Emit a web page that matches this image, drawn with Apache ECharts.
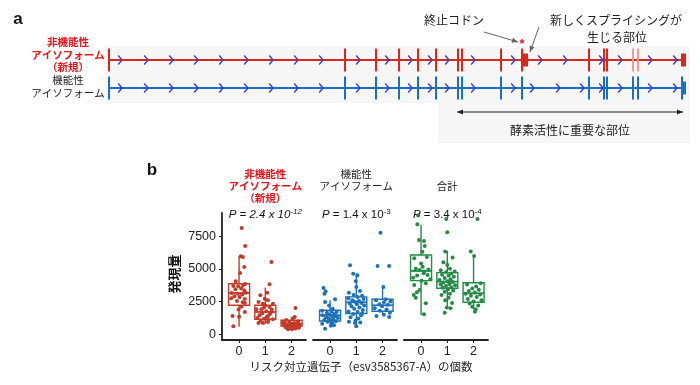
<!DOCTYPE html>
<html><head><meta charset="utf-8">
<script src="https://cdn.jsdelivr.net/npm/echarts@6/dist/echarts.min.js"></script>
<style>html,body{margin:0;padding:0;background:#fff}#c{width:700px;height:385px}</style>
</head><body><div id="c"></div>
<script>
// ---------- Panel a: gene structure (arbitrary transcript units) ----------
const isoformRows = ['非機能性アイソフォーム（新規）', '機能性アイソフォーム'];
const geneSpan = [0, 577];
const exonTicksNew = [0, 236, 267, 290, 309, 327, 349, 353, 392, 413, 480, 495, 498];
const paleTicksNew = [524, 529];
const exonTicksFunc = [0, 236, 267, 290, 309, 327, 349, 353, 392, 413, 480, 495, 498, 524, 529, 573];
const blocksNew = [[413, 419], [572, 577]];
const blocksFunc = [[573, 577]];
const chevronsNew = [11, 37, 62, 87, 112, 137, 162, 187, 212, 249, 278, 301, 321, 338, 364, 404, 431, 456, 492, 511, 541, 566];
const chevronsFunc = [11, 37, 62, 87, 112, 137, 162, 187, 212, 249, 278, 301, 321, 338, 364, 404, 423, 449, 473, 492, 511, 541, 566];
const stopCodonPos = 413;
const enzymeDomain = [348, 574];

// ---------- Panel b: expression ----------
const groupTitles = ['非機能性\nアイソフォーム\n（新規）', '機能性\nアイソフォーム', '合計'];
const pValues = [['2.4', '-12'], ['1.4', '-3'], ['3.4', '-4']];
const riskAlleleCounts = [0, 1, 2];
const yTicks = [0, 2500, 5000, 7500];
const yTitle = '発現量';
const xTitle = 'リスク対立遺伝子（esv3585367-A）の個数';

// box stats: [min, Q1, median, Q3, max] for 0,1,2 risk alleles
const newIsoBoxes = [[581, 2217, 3157, 3868, 5948], [810, 1147, 1705, 2217, 3563], [380, 634, 810, 1070, 1322]];
const funcIsoBoxes = [[688, 1017, 1460, 1835, 2600], [612, 1590, 2450, 2860, 4633], [1452, 1758, 2217, 2675, 3616]];
const totalBoxes = [[1475, 4098, 4839, 6062, 8356], [2033, 3517, 4022, 4711, 6368], [1911, 2446, 3134, 3945, 5986]];

// jittered points: [horizontal jitter, value]
const newIso0 = [[0.10,8130],[0.23,6750],[0.06,5960],[0.14,5900],[0.20,5150],[0.04,4690],[-0.13,4050],[0.23,3850],[-0.22,3700],[-0.03,3680],[0.15,3750],[-0.14,3450],[0.08,3500],[0.20,3350],[-0.28,3150],[-0.05,3100],[0.12,3050],[0.25,3180],[-0.18,2900],[0.02,2850],[-0.30,2750],[0.22,2700],[-0.08,2550],[0.14,2450],[0.22,2400],[0.08,2100],[-0.02,1900],[0.22,1700],[-0.25,1400],[0.00,1350],[-0.22,620]];
const newIso1 = [[0.23,5530],[0.16,3820],[0.07,3180],[-0.19,2980],[-0.02,2720],[0.10,2600],[-0.26,2470],[-0.09,2340],[0.29,2340],[0.16,2090],[-0.15,1910],[-0.34,1910],[0.04,1760],[0.23,1710],[-0.22,1450],[0.10,1400],[-0.05,1190],[0.29,1150],[-0.26,860],[-0.09,860],[0.10,940],[0.00,2200],[-0.12,1600],[0.18,1550],[0.05,1300],[-0.30,1250],[0.25,1900],[-0.05,2050],[0.12,1100],[-0.18,1000]];
const newIso2 = [[0.15,2010],[0.12,1330],[0.05,1200],[-0.20,1100],[-0.32,950],[0.25,980],[-0.08,900],[0.10,870],[-0.25,820],[0.02,800],[0.20,780],[-0.15,750],[0.30,720],[-0.02,700],[-0.30,680],[0.18,650],[-0.12,620],[0.07,600],[0.25,560],[-0.22,520],[-0.05,480],[0.15,450],[-0.13,380],[0.02,380],[0.28,500]];
const funcIso0 = [[-0.25,3540],[-0.17,3290],[-0.21,3100],[0.19,2680],[-0.19,2470],[-0.04,2210],[0.10,1950],[-0.30,1800],[0.05,1750],[0.25,1700],[-0.12,1650],[0.15,1550],[-0.02,1500],[-0.28,1450],[0.20,1400],[0.08,1350],[-0.15,1300],[0.30,1250],[-0.05,1200],[0.12,1150],[-0.22,1100],[0.02,1050],[0.22,1000],[-0.10,950],[0.08,850],[-0.30,800],[0.15,700],[-0.19,430],[0.03,650]];
const funcIso1 = [[-0.24,5280],[-0.12,4630],[0.04,4510],[-0.02,4050],[0.00,3620],[-0.28,3180],[0.14,3300],[-0.10,3000],[0.22,2950],[0.05,2850],[-0.30,2750],[0.28,2700],[-0.15,2600],[0.10,2550],[-0.05,2480],[0.20,2400],[-0.25,2350],[0.02,2300],[0.30,2200],[-0.18,2150],[0.12,2050],[-0.08,1950],[0.25,1850],[-0.30,1750],[0.05,1700],[-0.12,1550],[0.18,1450],[-0.22,1300],[0.08,1200],[-0.03,1050],[-0.28,950],[0.15,900],[-0.05,860],[0.00,610],[0.22,1600]];
const funcIso2 = [[-0.08,7770],[-0.19,5220],[0.25,5220],[0.03,3620],[0.12,2680],[-0.25,2600],[0.30,2500],[0.05,2450],[-0.12,2300],[0.20,2250],[-0.02,2150],[-0.30,2000],[0.15,1900],[-0.10,1800],[0.28,1650],[-0.23,1400],[0.25,1320],[0.05,1500]];
const total0 = [[-0.11,9070],[-0.14,8410],[-0.08,7210],[0.11,7130],[0.14,6750],[0.05,6300],[-0.26,5810],[0.22,5900],[0.00,5420],[0.06,5170],[-0.20,5000],[0.28,4950],[-0.05,4910],[0.12,4800],[0.10,4660],[0.25,4530],[-0.15,4500],[-0.30,4330],[0.35,4200],[0.02,4100],[-0.26,3770],[0.18,3900],[-0.06,3390],[-0.16,3210],[-0.28,3000],[0.18,2370],[0.11,1530],[-0.20,2800]];
const total1 = [[-0.04,8820],[0.00,7800],[-0.08,6320],[0.20,5860],[0.00,5300],[-0.15,5500],[0.10,5000],[-0.25,4900],[0.28,4800],[-0.05,4750],[0.15,4650],[-0.20,4550],[0.05,4500],[0.25,4400],[-0.10,4300],[0.12,4200],[-0.30,4150],[0.00,4050],[0.20,4000],[-0.15,3950],[0.08,3850],[-0.25,3800],[0.30,3750],[-0.05,3700],[0.15,3600],[-0.18,3550],[0.02,3450],[0.22,3350],[-0.10,3250],[0.10,3100],[-0.22,3000],[0.05,2800],[-0.08,2600],[0.18,2400],[-0.02,2050],[0.12,1990],[-0.10,1650]];
const total2 = [[0.15,8820],[-0.11,6320],[0.02,5990],[0.27,3900],[-0.25,3800],[0.10,3650],[-0.05,3500],[0.20,3400],[-0.18,3300],[0.05,3200],[-0.30,3100],[0.25,3050],[-0.10,2950],[0.12,2850],[-0.22,2700],[0.30,2600],[0.00,2500],[-0.15,2350],[0.18,2200],[-0.05,2100],[0.08,1920],[0.05,1730]];

// ---------- styling ----------
const FONT = '"Liberation Sans", Arial, "Noto Sans CJK JP", sans-serif';
const JP = '"Noto Sans CJK JP", "Liberation Sans", sans-serif';
const rowColors = ['#d8281d', '#1b6ec2'];
const paleRed = '#ee9b94';
const chevronColor = '#2b3af2';
const groupColors = ['#c23b2b', '#1d72b8', '#238b45'];
const titleRed = '#e8141c';

const chart = echarts.init(document.getElementById('c'));

function backboneRender(params, api) {
  const row = api.value(2);
  const a = api.coord([api.value(0), row]), b = api.coord([api.value(1), row]);
  return {type:'line', shape:{x1:a[0], y1:a[1], x2:b[0], y2:b[1]}, style:{stroke:rowColors[row], lineWidth:2}};
}
function tickRender(pale) {
  return function(params, api) {
    const row = api.value(1);
    const p = api.coord([api.value(0), row]);
    return {type:'line', shape:{x1:p[0], y1:p[1]-11.5, x2:p[0], y2:p[1]+11.5},
      style:{stroke: pale ? paleRed : rowColors[row], lineWidth:2}};
  };
}
function blockRender(params, api) {
  const row = api.value(2);
  const a = api.coord([api.value(0), row]), b = api.coord([api.value(1), row]);
  return {type:'rect', shape:{x:a[0], y:a[1]-6.5, width:b[0]-a[0], height:13}, style:{fill:rowColors[row]}};
}
function chevronRender(params, api) {
  const p = api.coord([api.value(0), api.value(1)]);
  return {type:'polyline', shape:{points:[[p[0]-1.8,p[1]-4.5],[p[0]+1.6,p[1]-0.5],[p[0]+1.6,p[1]+0.5],[p[0]-1.8,p[1]+4.5]]},
    style:{stroke:chevronColor, lineWidth:1.3, fill:null}};
}
function boxRender(color) {
  return function(params, api) {
    const x = api.value(0);
    const lo = api.coord([x, api.value(1)]), q1 = api.coord([x, api.value(2)]),
      md = api.coord([x, api.value(3)]), q3 = api.coord([x, api.value(4)]), hi = api.coord([x, api.value(5)]);
    const w = api.size([0.8, 0])[0];
    const xl = q1[0] - w / 2;
    const st = {stroke:color, lineWidth:1.4, fill:null};
    return {type:'group', children:[
      {type:'line', shape:{x1:lo[0], y1:lo[1], x2:lo[0], y2:q1[1]}, style:st},
      {type:'line', shape:{x1:hi[0], y1:hi[1], x2:hi[0], y2:q3[1]}, style:st},
      {type:'rect', shape:{x:xl, y:q3[1], width:w, height:q1[1]-q3[1]}, style:st},
      {type:'line', shape:{x1:xl, y1:md[1], x2:xl+w, y2:md[1]}, style:{stroke:color, lineWidth:1.8}}
    ]};
  };
}

const rowIdx = {new:0, func:1};
const series = [
  {type:'custom', xAxisIndex:0, yAxisIndex:0, renderItem:backboneRender, z:1,
   data:[[geneSpan[0], geneSpan[1], rowIdx.new], [geneSpan[0], geneSpan[1], rowIdx.func]]},
  {type:'custom', xAxisIndex:0, yAxisIndex:0, renderItem:tickRender(false), z:2,
   data: exonTicksNew.map(p => [p, rowIdx.new]).concat(exonTicksFunc.map(p => [p, rowIdx.func]))},
  {type:'custom', xAxisIndex:0, yAxisIndex:0, renderItem:tickRender(true), z:2,
   data: paleTicksNew.map(p => [p, rowIdx.new])},
  {type:'custom', xAxisIndex:0, yAxisIndex:0, renderItem:blockRender, z:3,
   data: blocksNew.map(b => [b[0], b[1], rowIdx.new]).concat(blocksFunc.map(b => [b[0], b[1], rowIdx.func]))},
  {type:'custom', xAxisIndex:0, yAxisIndex:0, renderItem:chevronRender, z:4,
   data: chevronsNew.map(p => [p, rowIdx.new]).concat(chevronsFunc.map(p => [p, rowIdx.func]))}
];

const boxSets = [newIsoBoxes, funcIsoBoxes, totalBoxes];
const pointSets = [[newIso0, newIso1, newIso2], [funcIso0, funcIso1, funcIso2], [total0, total1, total2]];
boxSets.forEach((boxes, g) => {
  series.push({type:'custom', xAxisIndex:g+1, yAxisIndex:g+1, renderItem:boxRender(groupColors[g]), z:2,
    data: boxes.map((b, k) => [riskAlleleCounts[k]].concat(b))});
  series.push({type:'scatter', xAxisIndex:g+1, yAxisIndex:g+1, symbolSize:4, z:3,
    itemStyle:{color:groupColors[g], opacity:1},
    data: pointSets[g].flatMap((pts, k) => pts.map(([dx, v]) => [riskAlleleCounts[k] + dx, v]))});
});

const grids = [{left:109, top:46, width:577, height:56}];
const bLefts = [222, 313, 404];
bLefts.forEach(l => grids.push({left:l, top:213, width:84, height:127}));

const plain = v => String(v);
const xAxes = [{type:'value', gridIndex:0, min:geneSpan[0], max:geneSpan[1], show:false}];
const yAxes = [{type:'category', gridIndex:0, data:isoformRows, inverse:true, show:false}];
for (let g = 0; g < 3; g++) {
  xAxes.push({type:'value', gridIndex:g+1, min:-0.65, max:2.55,
    axisLine:{onZero:false, lineStyle:{color:'#222', width:1.8}},
    axisTick:{customValues:riskAlleleCounts, length:3, lineStyle:{color:'#222', width:1}},
    axisLabel:{customValues:riskAlleleCounts, formatter:plain, margin:5, fontSize:12.5, color:'#222', fontFamily:FONT},
    splitLine:{show:false}});
  yAxes.push({type:'value', gridIndex:g+1, min:-436, max:9270,
    axisLine:{show:g===0, onZero:false, lineStyle:{color:'#222', width:1.8}},
    axisTick:{show:g===0, customValues:yTicks, length:3, lineStyle:{color:'#222', width:1}},
    axisLabel:{show:g===0, customValues:yTicks, formatter:plain, margin:6, fontSize:12.5, color:'#222', fontFamily:FONT},
    splitLine:{show:false}});
}

chart.setOption({animation:false, backgroundColor:'#fff', grid:grids, xAxis:xAxes, yAxis:yAxes, series:series});

// ---------- annotations ----------
function arrowEls(x1, y1, x2, y2, color, both) {
  const els = [{type:'line', shape:{x1, y1, x2, y2}, style:{stroke:color, lineWidth:1}}];
  const head = (tx, ty, fx, fy) => {
    const a = Math.atan2(ty - fy, tx - fx), L = 6, W = 2.6;
    const bx = tx - L * Math.cos(a), by = ty - L * Math.sin(a);
    return {type:'polygon', shape:{points:[[tx,ty],[bx + W*Math.sin(a), by - W*Math.cos(a)],[bx - W*Math.sin(a), by + W*Math.cos(a)]]}, style:{fill:color}};
  };
  els.push(head(x2, y2, x1, y1));
  if (both) els.push(head(x1, y1, x2, y2));
  return els;
}
function txt(x, y, text, size, color, weight, family, lh, extra) {
  return Object.assign({type:'text', x, y, style:{text, fontSize:size, fontFamily:family || JP, fontWeight:weight || 'normal',
    fill:color || '#222', align:'center', verticalAlign:'middle', lineHeight:lh || Math.round(size*1.2)}}, extra || {});
}

const stopPx = chart.convertToPixel({gridIndex:0}, [stopCodonPos, 0]);
const dom0 = chart.convertToPixel({gridIndex:0}, [enzymeDomain[0], 1]);
const dom1 = chart.convertToPixel({gridIndex:0}, [enzymeDomain[1], 1]);
const spliceEnd = chart.convertToPixel({gridIndex:0}, [blocksNew[0][1], 0]);
const xc = g => chart.convertToPixel({gridIndex:g+1}, [1, 0])[0];

const graphic = [
  {type:'rect', shape:{x:105, y:46, width:585, height:57}, style:{fill:'#f6f6f6'}, z:-10},
  {type:'rect', shape:{x:438, y:103, width:252, height:40}, style:{fill:'#f6f6f6'}, z:-10},
  txt(18, 19, 'a', 17, '#111', 'bold', FONT),
  txt(152, 170, 'b', 17, '#111', 'bold', FONT),
  txt(68, 55, '非機能性\nアイソフォーム\n（新規）', 10.5, titleRed, 'bold', JP, 12.5),
  txt(68, 86.5, '機能性\nアイソフォーム', 10.5, '#222', 'normal', JP, 13),
  txt(454, 20, '終止コドン', 12, '#222'),
  txt(616, 20, '新しくスプライシングが', 12, '#222'),
  txt(617, 37, '生じる部位', 12, '#222'),
  txt(stopPx[0], stopPx[1] - 16, '*', 13, '#e8141c', 'bold', FONT),
  txt((dom0[0] + dom1[0]) / 2, 130, '酵素活性に重要な部位', 12, '#222'),
  txt(174, 274, yTitle, 13, '#111', 'bold', JP, 16, {rotation:Math.PI/2}),
  txt(361, 367, xTitle, 11.5, '#222')
].concat(
  arrowEls(stopPx[0] - 38, stopPx[1] - 28, stopPx[0] - 4, stopPx[1] - 18, '#666', false),
  arrowEls(spliceEnd[0] + 11, stopPx[1] - 33, spliceEnd[0] + 2, stopPx[1] - 8, '#666', false),
  arrowEls(dom0[0], 112, dom1[0], 112, '#222', true)
);

// group titles
const titleY = [186, 180, 186];
groupTitles.forEach((t, g) => {
  const cx = xc(g);
  graphic.push({type:'text', x:cx, y:titleY[g], style:{text:t, fontSize:10.5, fontFamily:JP, fontWeight: g===0 ? 'bold' : 'normal',
    fill: g===0 ? titleRed : '#222', align:'center', verticalAlign:'middle', lineHeight:12}});
});
// p values
pValues.forEach(([m, e], g) => {
  const cx = xc(g);
  const ital = g === 0 ? 'italic' : 'normal';
  graphic.push({type:'text', x:cx, y:215, style:{
    text:'{p|P}{n| = ' + m + ' x 10}{s|' + e + '}', align:'center', verticalAlign:'middle',
    rich:{
      p:{fontSize:11.5, fontStyle:'italic', fontFamily:FONT, fill:'#111'},
      n:{fontSize:11.5, fontStyle:ital, fontFamily:FONT, fill:'#111'},
      s:{fontSize:8, fontStyle:ital, fontFamily:FONT, fill:'#111', padding:[0,0,7,0]}
    }}});
});

chart.setOption({graphic: graphic});
</script>
</body></html>
